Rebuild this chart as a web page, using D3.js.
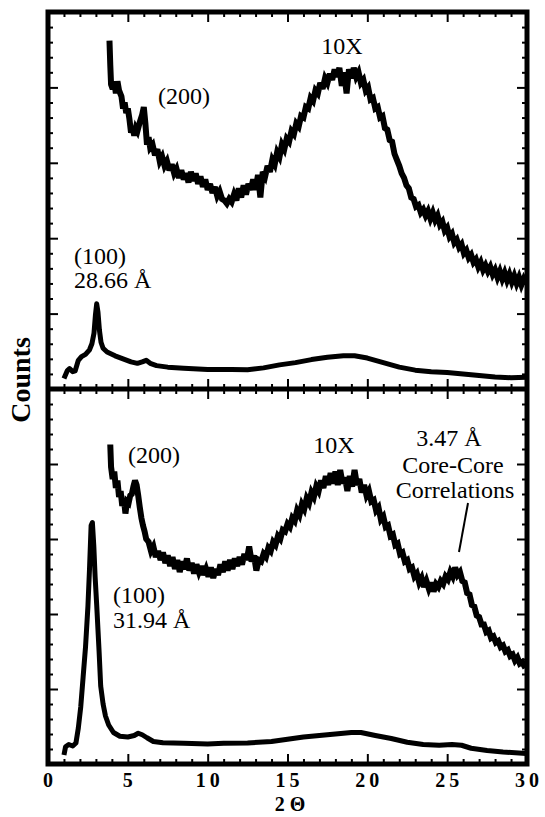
<!DOCTYPE html>
<html>
<head>
<meta charset="utf-8">
<script src="https://cdn.jsdelivr.net/npm/d3@7"></script>
<style>
  html, body { margin: 0; padding: 0; background: #fff; }
  svg { display: block; }
</style>
</head>
<body>
<div id="chart"></div>
<script>
// 2-theta tick labels
const xTickLabels = ['0', '5', '10', '15', '20', '25', '30'];

// top panel, (100) 28.66 A sample, raw trace [2theta, counts]
const topRaw = [[1.0,0.7],[1.2,1.2],[1.35,1.35],[1.55,1.15],[1.7,1.2],[1.9,1.9],[2.1,2.15],[2.35,2.3],[2.6,2.6],[2.75,3.0],[2.88,3.7],[2.97,4.9],[3.05,5.65],[3.13,5.1],[3.22,3.9],[3.32,3.1],[3.45,2.7],[3.7,2.45],[4.2,2.2],[4.7,2.0],[5.2,1.8],[5.6,1.7],[5.9,1.8],[6.15,1.9],[6.4,1.7],[6.8,1.55],[7.5,1.45],[8.5,1.38],[10.0,1.3],[11.5,1.3],[12.5,1.28],[13.5,1.4],[14.5,1.6],[15.5,1.75],[16.5,1.95],[17.5,2.1],[18.5,2.2],[19.2,2.2],[20.0,2.05],[21.0,1.75],[22.0,1.45],[23.0,1.25],[24.0,1.15],[25.0,1.1],[26.0,1.0],[27.0,0.9],[28.0,0.8],[29.0,0.75],[29.95,0.78]];

// top panel, 10X magnified trace
const top10x = [[3.85,23.1],[3.9,21.5],[3.95,20.2],[4.05,19.9],[4.15,20.4],[4.25,19.6],[4.35,20.4],[4.45,19.8],[4.6,19.4],[4.7,18.6],[4.8,19.0],[4.9,18.3],[5.0,18.6],[5.1,17.9],[5.2,17.0],[5.3,17.4],[5.4,16.8],[5.5,17.3],[5.6,17.1],[5.75,17.7],[5.9,18.2],[6.0,18.7],[6.1,17.6],[6.2,16.2],[6.3,16.7],[6.4,16.0],[6.55,16.2],[6.7,15.5],[6.85,15.9],[7.0,15.1],[7.15,15.4],[7.3,14.8],[7.45,15.1],[7.6,14.5],[7.75,14.9],[7.9,14.3],[8.05,14.6],[8.2,14.0],[8.35,14.5],[8.5,13.9],[8.65,14.3],[8.8,13.7],[8.95,14.4],[9.1,13.8],[9.25,14.3],[9.4,13.6],[9.55,14.1],[9.7,13.4],[9.85,13.9],[10.0,13.2],[10.15,13.6],[10.3,13.0],[10.45,13.4],[10.6,12.8],[10.75,13.1],[10.9,12.6],[11.05,12.5],[11.2,12.3],[11.35,12.6],[11.5,12.4],[11.65,12.9],[11.8,12.5],[11.95,13.3],[12.1,12.7],[12.25,13.5],[12.4,12.9],[12.55,13.6],[12.7,13.2],[12.85,13.9],[13.0,13.2],[13.15,14.2],[13.3,12.7],[13.45,14.4],[13.6,14.1],[13.75,14.8],[13.9,14.4],[14.05,15.2],[14.2,14.9],[14.35,15.7],[14.5,15.4],[14.65,16.2],[14.8,15.9],[14.95,16.6],[15.1,16.4],[15.25,17.1],[15.4,16.9],[15.55,17.6],[15.7,17.4],[15.85,18.1],[16.0,18.0],[16.15,18.7],[16.3,18.6],[16.45,19.3],[16.6,19.1],[16.75,19.8],[16.9,19.6],[17.05,20.3],[17.2,19.9],[17.35,20.6],[17.5,20.3],[17.65,20.9],[17.8,20.5],[17.95,21.2],[18.1,20.7],[18.25,21.3],[18.4,20.1],[18.55,21.0],[18.7,19.6],[18.85,21.2],[19.0,20.6],[19.15,21.3],[19.3,20.7],[19.45,21.0],[19.6,20.3],[19.75,20.5],[19.9,19.8],[20.05,20.0],[20.2,19.2],[20.35,19.3],[20.5,18.6],[20.65,18.7],[20.8,18.0],[20.95,18.1],[21.1,17.3],[21.25,17.2],[21.4,16.5],[21.55,16.4],[21.7,15.6],[21.85,15.2],[22.0,14.8],[22.15,14.3],[22.3,14.0],[22.45,13.5],[22.6,13.3],[22.75,12.7],[22.9,12.6],[23.05,12.1],[23.2,12.2],[23.35,11.7],[23.5,11.9],[23.65,11.5],[23.8,11.8],[23.95,11.3],[24.1,11.7],[24.25,11.2],[24.4,11.5],[24.55,10.9],[24.7,11.1],[24.85,10.5],[25.0,10.7],[25.15,10.1],[25.3,10.3],[25.45,9.7],[25.6,9.9],[25.75,9.4],[25.9,9.6],[26.05,9.0],[26.2,9.2],[26.35,8.7],[26.5,8.9],[26.65,8.4],[26.8,8.6],[26.95,8.1],[27.1,8.4],[27.25,7.9],[27.4,8.2],[27.55,7.8],[27.7,8.1],[27.85,7.6],[28.0,7.9],[28.15,7.4],[28.3,7.8],[28.45,7.3],[28.6,7.7],[28.75,7.2],[28.9,7.6],[29.05,7.1],[29.2,7.5],[29.35,7.0],[29.5,7.4],[29.65,6.9],[29.8,7.3],[29.95,7.0]];

// bottom panel, (100) 31.94 A sample, raw trace
const botRaw = [[1.0,0.6],[1.1,1.15],[1.3,1.3],[1.55,1.2],[1.75,1.4],[1.9,2.4],[2.05,3.8],[2.2,5.8],[2.35,7.8],[2.5,10.5],[2.6,13.0],[2.7,15.9],[2.78,16.1],[2.87,14.5],[2.95,12.5],[3.05,10.6],[3.2,7.5],[3.3,5.2],[3.45,4.0],[3.6,3.2],[3.8,2.6],[4.1,2.1],[4.5,1.85],[5.0,1.8],[5.4,1.9],[5.65,2.05],[5.9,1.95],[6.2,1.75],[6.6,1.5],[7.2,1.42],[8.5,1.38],[10.0,1.33],[11.0,1.38],[12.5,1.4],[14.0,1.5],[15.0,1.65],[16.0,1.8],[17.0,1.9],[18.0,2.0],[19.0,2.1],[19.6,2.1],[20.5,1.9],[21.5,1.7],[22.5,1.45],[23.5,1.3],[24.5,1.25],[25.3,1.3],[25.9,1.25],[26.5,1.05],[27.5,0.9],[28.5,0.8],[29.95,0.7]];

// bottom panel, 10X magnified trace
const bot10x = [[3.9,21.3],[3.95,19.8],[4.05,19.0],[4.15,19.5],[4.25,18.4],[4.35,18.9],[4.45,17.8],[4.55,18.2],[4.65,17.2],[4.75,17.7],[4.85,16.7],[4.95,17.5],[5.05,17.4],[5.15,17.9],[5.25,18.0],[5.35,18.5],[5.45,18.9],[5.55,18.6],[5.65,17.9],[5.75,17.1],[5.85,16.4],[5.95,15.9],[6.05,15.5],[6.15,15.0],[6.3,14.8],[6.45,14.2],[6.6,14.5],[6.75,13.8],[6.9,14.2],[7.05,13.6],[7.2,14.1],[7.35,13.4],[7.5,13.9],[7.65,13.2],[7.8,13.8],[7.95,13.0],[8.1,13.6],[8.25,12.8],[8.4,13.5],[8.55,13.0],[8.7,13.7],[8.85,12.9],[9.0,13.4],[9.15,12.7],[9.3,13.3],[9.45,12.8],[9.6,13.2],[9.75,12.6],[9.9,13.0],[10.05,12.5],[10.2,13.1],[10.35,12.4],[10.5,13.0],[10.65,12.6],[10.8,13.3],[10.95,12.8],[11.1,13.5],[11.25,12.9],[11.4,13.6],[11.55,13.0],[11.7,13.7],[11.85,13.2],[12.0,13.8],[12.15,13.3],[12.3,14.0],[12.45,13.6],[12.6,14.5],[12.75,13.5],[12.9,13.9],[13.05,12.9],[13.2,13.6],[13.35,13.5],[13.5,14.0],[13.65,13.8],[13.8,14.4],[13.95,14.2],[14.1,14.8],[14.25,14.6],[14.4,15.2],[14.55,15.0],[14.7,15.6],[14.85,15.5],[15.0,16.0],[15.15,15.8],[15.3,16.4],[15.45,16.2],[15.6,16.9],[15.75,16.6],[15.9,17.3],[16.05,17.0],[16.2,17.7],[16.35,17.4],[16.5,18.1],[16.65,17.8],[16.8,18.5],[16.95,18.2],[17.1,18.9],[17.25,18.4],[17.4,19.2],[17.55,18.6],[17.7,19.4],[17.85,18.7],[18.0,19.5],[18.15,18.6],[18.3,19.6],[18.45,18.7],[18.6,19.1],[18.75,18.2],[18.9,19.2],[19.05,18.5],[19.2,19.6],[19.35,18.6],[19.5,19.0],[19.65,18.1],[19.8,18.6],[19.95,17.9],[20.1,18.2],[20.25,17.5],[20.4,17.6],[20.55,16.9],[20.7,17.1],[20.85,16.3],[21.0,16.5],[21.15,15.8],[21.3,15.9],[21.45,15.2],[21.6,15.3],[21.75,14.6],[21.9,14.7],[22.05,14.0],[22.2,14.1],[22.35,13.5],[22.5,13.6],[22.65,13.0],[22.8,13.1],[22.95,12.5],[23.1,12.7],[23.25,12.1],[23.4,12.4],[23.55,11.8],[23.7,12.2],[23.85,11.7],[24.0,12.1],[24.15,11.5],[24.3,12.0],[24.45,11.8],[24.6,12.2],[24.75,12.0],[24.9,12.5],[25.05,12.3],[25.2,12.8],[25.35,12.5],[25.5,13.1],[25.65,12.6],[25.8,12.8],[25.95,12.2],[26.1,12.1],[26.25,11.4],[26.4,11.3],[26.55,10.6],[26.7,10.5],[26.85,9.9],[27.0,9.8],[27.15,9.3],[27.3,9.3],[27.45,8.8],[27.6,8.9],[27.75,8.4],[27.9,8.5],[28.05,8.1],[28.2,8.2],[28.35,7.8],[28.5,7.9],[28.65,7.5],[28.8,7.6],[28.95,7.2],[29.1,7.3],[29.25,6.9],[29.4,7.1],[29.55,6.7],[29.7,6.8],[29.9,6.4]];

const W = 545, H = 817;
const left = 48, right = 527, topY = 12, midY = 389, botY = 764;
const serif = '"Liberation Serif", "Times New Roman", serif';

const svg = d3.select('#chart').append('svg')
  .attr('width', W)
  .attr('height', H);

const x = d3.scaleLinear().domain([0, 30]).range([left, right]);
const yTop = d3.scaleLinear().domain([0, 25]).range([midY, topY]);
const yBot = d3.scaleLinear().domain([0, 25]).range([botY, midY]);

const xMajor = [5, 10, 15, 20, 25];
const xMinor = d3.range(1, 30).filter(d => d % 5 !== 0);
const yMajor = [5, 10, 15, 20];
const yMinor = d3.range(1, 25).filter(d => d % 5 !== 0);

// inward ticks on all four sides of a panel
function drawTicks(y, y0, y1) {
  const defs = [
    { ax: d3.axisBottom, scale: x, pos: `translate(0,${y0})`, major: xMajor, minor: xMinor },
    { ax: d3.axisTop, scale: x, pos: `translate(0,${y1})`, major: xMajor, minor: xMinor },
    { ax: d3.axisLeft, scale: y, pos: `translate(${left},0)`, major: yMajor, minor: yMinor },
    { ax: d3.axisRight, scale: y, pos: `translate(${right},0)`, major: yMajor, minor: yMinor }
  ];
  defs.forEach(d => {
    [[d.major, 10], [d.minor, 5]].forEach(([vals, len]) => {
      const g = svg.append('g')
        .attr('transform', d.pos)
        .call(d.ax(d.scale).tickValues(vals).tickSize(-len).tickFormat(''));
      g.select('.domain').remove();
      g.selectAll('line').attr('stroke', '#000').attr('stroke-width', 2);
    });
  });
}

drawTicks(yTop, midY, topY);
drawTicks(yBot, botY, midY);

// traces; noisy ones get sharp joins so the noise reads as spikes
function drawTrace(data, y, width, join) {
  svg.append('path')
    .datum(data)
    .attr('fill', 'none')
    .attr('stroke', '#000')
    .attr('stroke-width', width)
    .attr('stroke-linejoin', join)
    .attr('stroke-miterlimit', 3)
    .attr('stroke-linecap', 'butt')
    .attr('d', d3.line().x(d => x(d[0])).y(d => y(d[1])));
}

drawTrace(topRaw, yTop, 5, 'round');
drawTrace(top10x, yTop, 6, 'miter');
drawTrace(botRaw, yBot, 5, 'round');
drawTrace(bot10x, yBot, 6, 'miter');

// frame and divider
svg.append('rect')
  .attr('x', left).attr('y', topY)
  .attr('width', right - left).attr('height', botY - topY)
  .attr('fill', 'none').attr('stroke', '#000').attr('stroke-width', 5);
svg.append('line')
  .attr('x1', left).attr('x2', right)
  .attr('y1', midY).attr('y2', midY)
  .attr('stroke', '#000').attr('stroke-width', 5);

// x tick labels
svg.selectAll('.tick-label')
  .data(xTickLabels)
  .enter()
  .append('text')
  .attr('class', 'tick-label')
  .attr('x', d => x(+d) + 2)
  .attr('y', 787)
  .attr('text-anchor', 'middle')
  .attr('font-family', serif)
  .attr('font-weight', 'bold')
  .attr('font-size', '20px')
  .attr('letter-spacing', '4px')
  .text(d => d);

// axis titles
svg.append('text')
  .attr('x', 290).attr('y', 811)
  .attr('text-anchor', 'middle')
  .attr('font-family', serif)
  .attr('font-weight', 'bold')
  .attr('font-size', '20px')
  .text('2 \u0398');

svg.append('text')
  .attr('transform', 'translate(30,380) rotate(-90)')
  .attr('text-anchor', 'middle')
  .attr('font-family', serif)
  .attr('font-weight', 'bold')
  .attr('font-size', '28px')
  .text('Counts');

// annotations
const ann = [
  { t: '10X', x: 342, y: 54, a: 'middle' },
  { t: '(200)', x: 184, y: 104, a: 'middle' },
  { t: '(100)', x: 74, y: 264, a: 'start' },
  { t: '28.66 \u00C5', x: 74, y: 288, a: 'start' },
  { t: '(200)', x: 154, y: 463, a: 'middle' },
  { t: '10X', x: 334, y: 453, a: 'middle' },
  { t: '3.47 \u00C5', x: 449, y: 446, a: 'middle' },
  { t: 'Core-Core', x: 453, y: 473, a: 'middle' },
  { t: 'Correlations', x: 455, y: 498, a: 'middle' },
  { t: '(100)', x: 113, y: 603, a: 'start' },
  { t: '31.94 \u00C5', x: 113, y: 628, a: 'start' }
];
svg.selectAll('.ann')
  .data(ann)
  .enter()
  .append('text')
  .attr('class', 'ann')
  .attr('x', d => d.x)
  .attr('y', d => d.y)
  .attr('text-anchor', d => d.a)
  .attr('font-family', serif)
  .attr('font-size', '24px')
  .text(d => d.t);

// pointer to the core-core peak
svg.append('line')
  .attr('x1', 468).attr('y1', 503)
  .attr('x2', 459).attr('y2', 552)
  .attr('stroke', '#000').attr('stroke-width', 2);
</script>
</body>
</html>
